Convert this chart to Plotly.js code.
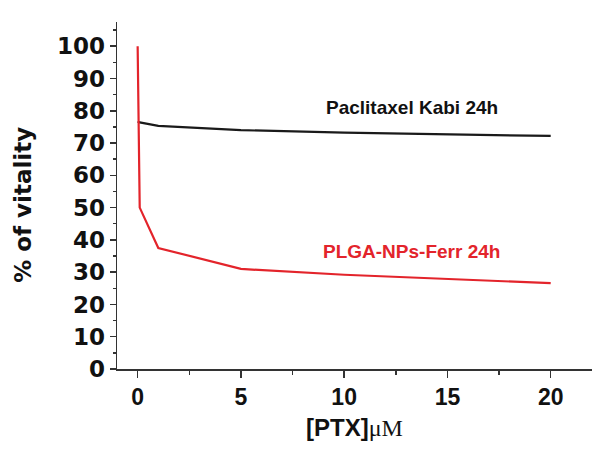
<!DOCTYPE html>
<html>
<head>
<meta charset="utf-8">
<script src="https://cdn.plot.ly/plotly-3.0.1.min.js"></script>
<style>html,body{margin:0;padding:0;background:#fff;}#chart{width:603px;height:449px;}</style>
</head>
<body>
<div id="chart"></div>
<script>
// Concentration of PTX (µM)
var concentration = [0, 0.1, 1, 5, 10, 20];
// % of vitality
var kabiVitality = [76.7, 76.4, 75.3, 74.0, 73.2, 72.2];
var plgaVitality = [100, 50, 37.5, 31.0, 29.2, 26.6];
var seriesNames = ["Paclitaxel Kabi 24h", "PLGA-NPs-Ferr 24h"];

var axisColor = "#333333";

var traces = [
  {x: concentration, y: kabiVitality, mode: "lines", name: seriesNames[0],
   line: {color: "#1a1a1a", width: 2.2}},
  {x: concentration, y: plgaVitality, mode: "lines", name: seriesNames[1],
   line: {color: "#e3242b", width: 2.2}}
];

var layout = {
  width: 603, height: 449,
  margin: {l: 117, r: 11, t: 22, b: 80},
  paper_bgcolor: "#ffffff", plot_bgcolor: "#ffffff",
  showlegend: false,
  xaxis: {
    range: [-1, 22], showgrid: false, zeroline: false,
    showline: true, linecolor: axisColor, linewidth: 1.5,
    ticks: "outside", ticklen: 7, tickwidth: 1.5, tickcolor: axisColor,
    tick0: 0, dtick: 5,
    minor: {dtick: 2.5, ticks: "outside", ticklen: 4, tickwidth: 1.5, tickcolor: axisColor},
    tickfont: {family: "Liberation Sans, Arial", size: 23, color: "#111", weight: "bold"},
    title: {text: "<b>[PTX]</b><span style='font-family:Liberation Serif, Times New Roman;font-weight:normal;font-size:24px'>μM</span>",
            font: {family: "Liberation Sans, Arial", size: 24, color: "#111"}, standoff: 10}
  },
  yaxis: {
    range: [0, 107.5], showgrid: false, zeroline: false,
    showline: true, linecolor: axisColor, linewidth: 1.5,
    ticks: "outside", ticklen: 6, tickwidth: 1.5, tickcolor: axisColor,
    tick0: 0, dtick: 10,
    minor: {dtick: 5, ticks: "outside", ticklen: 3, tickwidth: 1.5, tickcolor: axisColor},
    tickfont: {family: "DejaVu Sans", size: 23, color: "#111", weight: "bold"},
    ticklabelstandoff: 0
  },
  annotations: [
    {xref: "paper", yref: "paper", x: -0.198, y: 0.473, xanchor: "center", yanchor: "middle",
     textangle: -90, showarrow: false,
     text: "<b>% of vitality</b>", font: {family: "DejaVu Sans", size: 23, color: "#111"}},
    {xref: "x", yref: "y", x: 13.27, y: 81.1, xanchor: "center", yanchor: "middle", showarrow: false,
     text: "<b>" + seriesNames[0] + "</b>", font: {family: "Liberation Sans, Arial", size: 19, color: "#111"}},
    {xref: "x", yref: "y", x: 13.27, y: 36.5, xanchor: "center", yanchor: "middle", showarrow: false,
     text: "<b>" + seriesNames[1] + "</b>", font: {family: "Liberation Sans, Arial", size: 19, color: "#e3242b"}}
  ]
};

Plotly.newPlot("chart", traces, layout, {displayModeBar: false, staticPlot: true});
</script>
</body>
</html>
